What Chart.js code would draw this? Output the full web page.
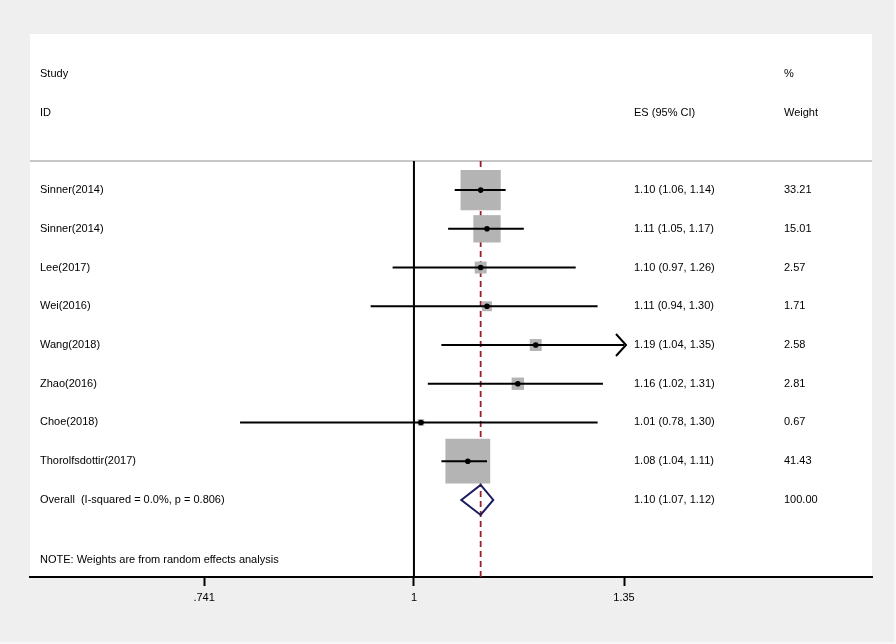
<!DOCTYPE html>
<html><head><meta charset="utf-8">
<script src="https://cdn.jsdelivr.net/npm/chart.js@4.4.1/dist/chart.umd.min.js"></script>
<style>
html,body{margin:0;padding:0;background:#fff;}
#wrap{position:relative;width:896px;height:644px;background:#efefef;box-sizing:border-box;border-right:2px solid #f8f8f8;border-bottom:2px solid #f8f8f8;}
#wrap canvas{position:absolute;left:0;top:0;}
</style></head><body>
<div id="wrap"><canvas id="c" width="896" height="644"></canvas></div>
<script>
// ---- data ----
const studies = ['Sinner(2014)','Sinner(2014)','Lee(2017)','Wei(2016)','Wang(2018)','Zhao(2016)','Choe(2018)','Thorolfsdottir(2017)'];
const es      = [1.10, 1.11, 1.10, 1.11, 1.19, 1.16, 1.01, 1.08];
const ciLow   = [1.06, 1.05, 0.97, 0.94, 1.04, 1.02, 0.78, 1.04];
const ciHigh  = [1.14, 1.17, 1.26, 1.30, 1.35, 1.31, 1.30, 1.11];
const weights = [33.21, 15.01, 2.57, 1.71, 2.58, 2.81, 0.67, 41.43];
const overallLabel = 'Overall  (I-squared = 0.0%, p = 0.806)';
const overallES = [1.10];
const overallLow = [1.07];
const overallHigh = [1.12];
const overallWeight = [100.00];
const tickValues = [0.741, 1, 1.35];
const tickLabels = ['.741', '1', '1.35'];
const headerLeft = ['Study', 'ID'];
const headerES = 'ES (95% CI)';
const headerWeight = ['%', 'Weight'];
const noteText = 'NOTE: Weights are from random effects analysis';

// ---- layout / style constants ----
const FONT = '"Liberation Sans", Arial, sans-serif';
Chart.defaults.font.family = FONT;
Chart.defaults.font.size = 11;
Chart.defaults.color = '#000';

const ROW_OVERALL = studies.length + 1;
const ROW_SEP = 0.25;
const ROW_NOTE = 10.55;

function fmtCI(e, l, h){ return e.toFixed(2) + ' (' + l.toFixed(2) + ', ' + h.toFixed(2) + ')'; }

const forestPlugin = {
  id: 'forest',
  beforeDraw(chart){
    const {ctx, chartArea:a} = chart;
    ctx.save();
    ctx.fillStyle = '#fff';
    ctx.fillRect(a.left, a.top, a.right - a.left, a.bottom - a.top);
    ctx.restore();
  },
  beforeDatasetsDraw(chart){
    const {ctx, chartArea:a, scales:{x, y}} = chart;
    const ySep = y.getPixelForValue(ROW_SEP);
    ctx.save();
    ctx.strokeStyle = '#b4b4b4';
    ctx.lineWidth = 1.5;
    ctx.beginPath(); ctx.moveTo(a.left, ySep); ctx.lineTo(a.right, ySep); ctx.stroke();
    const x1 = x.getPixelForValue(1);
    ctx.strokeStyle = '#000';
    ctx.lineWidth = 2;
    ctx.beginPath(); ctx.moveTo(x1, ySep); ctx.lineTo(x1, a.bottom); ctx.stroke();
    const xo = x.getPixelForValue(overallES[0]);
    ctx.strokeStyle = '#9a1f2e';
    ctx.lineWidth = 1.8;
    ctx.setLineDash([6, 4]);
    ctx.beginPath(); ctx.moveTo(xo, ySep); ctx.lineTo(xo, a.bottom); ctx.stroke();
    ctx.restore();
  },
  afterDatasetsDraw(chart){
    const {ctx, chartArea:a, scales:{x, y}} = chart;
    ctx.save();
    const xMaxTick = Math.max(...tickValues);
    ctx.strokeStyle = '#000';
    ctx.lineWidth = 2;
    studies.forEach((s, i) => {
      if (ciHigh[i] >= xMaxTick) {
        const px = x.getPixelForValue(ciHigh[i]) + 2;
        const py = y.getPixelForValue(i + 1);
        ctx.beginPath();
        ctx.moveTo(px - 10, py - 11); ctx.lineTo(px, py); ctx.lineTo(px - 10, py + 11);
        ctx.stroke();
      }
    });
    const yo = y.getPixelForValue(ROW_OVERALL);
    const xl = x.getPixelForValue(overallLow[0]);
    const xe = x.getPixelForValue(overallES[0]);
    const xh = x.getPixelForValue(overallHigh[0]);
    ctx.strokeStyle = '#1b1b5e';
    ctx.lineWidth = 2;
    ctx.beginPath();
    ctx.moveTo(xl, yo); ctx.lineTo(xe, yo - 15); ctx.lineTo(xh, yo); ctx.lineTo(xe, yo + 15); ctx.closePath();
    ctx.stroke();

    ctx.fillStyle = '#000';
    ctx.font = '11px ' + FONT;
    ctx.textBaseline = 'middle';
    ctx.textAlign = 'left';
    const xStudy = a.left + 10, xES = 634, xW = 784;
    ctx.fillText(headerLeft[0], xStudy, y.getPixelForValue(-2));
    ctx.fillText(headerLeft[1], xStudy, y.getPixelForValue(-1));
    ctx.fillText(headerES, xES, y.getPixelForValue(-1));
    ctx.fillText(headerWeight[0], xW, y.getPixelForValue(-2));
    ctx.fillText(headerWeight[1], xW, y.getPixelForValue(-1));
    studies.forEach((s, i) => {
      const py = y.getPixelForValue(i + 1);
      ctx.fillText(s, xStudy, py);
      ctx.fillText(fmtCI(es[i], ciLow[i], ciHigh[i]), xES, py);
      ctx.fillText(weights[i].toFixed(2), xW, py);
    });
    ctx.fillText(overallLabel, xStudy, yo);
    ctx.fillText(fmtCI(overallES[0], overallLow[0], overallHigh[0]), xES, yo);
    ctx.fillText(overallWeight[0].toFixed(2), xW, yo);
    ctx.fillText(noteText, xStudy, y.getPixelForValue(ROW_NOTE));
    ctx.restore();
  }
};

const ciDatasets = studies.map((s, i) => ({
  label: s + ' CI',
  data: [{x: ciLow[i], y: i + 1}, {x: ciHigh[i], y: i + 1}],
  showLine: true,
  borderColor: '#000',
  borderWidth: 2,
  pointRadius: 0,
  order: 2
}));

const boxDataset = {
  label: 'weights',
  data: studies.map((s, i) => ({x: es[i], y: i + 1, w: weights[i]})),
  pointStyle: 'rect',
  backgroundColor: '#b4b4b4',
  borderWidth: 0,
  pointRadius: (ctx) => {
    const w = ctx.raw ? ctx.raw.w : 0;
    return (6.8 * Math.sqrt(w) + 1) / Math.SQRT2;
  },
  order: 3
};

const dotDataset = {
  label: 'ES',
  data: studies.map((s, i) => ({x: es[i], y: i + 1})),
  pointStyle: 'circle',
  backgroundColor: '#000',
  borderWidth: 0,
  pointRadius: 2.8,
  order: 1
};

new Chart(document.getElementById('c'), {
  type: 'scatter',
  data: { datasets: [dotDataset, ...ciDatasets, boxDataset] },
  options: {
    responsive: false,
    animation: false,
    events: [],
    layout: { autoPadding: false, padding: { left: 30, top: 34, right: 24, bottom: 0 } },
    plugins: { legend: { display: false }, tooltip: { enabled: false } },
    scales: {
      x: {
        type: 'logarithmic',
        bounds: 'data',
        min: 0.5778,
        max: 1.924,
        afterBuildTicks: (scale) => { scale.ticks = tickValues.map(v => ({value: v})); },
        afterFit: (scale) => { scale.height = 67; scale.paddingLeft = 0; scale.paddingRight = 0; },
        ticks: {
          autoSkip: false,
          maxRotation: 0,
          padding: 5,
          color: '#000',
          font: { size: 11 },
          callback: (val, idx) => tickLabels[idx]
        },
        grid: { drawOnChartArea: false, drawTicks: true, tickLength: 9, tickColor: '#000', tickWidth: 2 },
        border: { display: true, color: '#000', width: 2 }
      },
      y: {
        type: 'linear',
        display: false,
        reverse: true,
        min: -3.03,
        max: 10.99,
        afterFit: (scale) => { scale.width = 0; }
      }
    }
  },
  plugins: [forestPlugin]
});
</script>
</body></html>
